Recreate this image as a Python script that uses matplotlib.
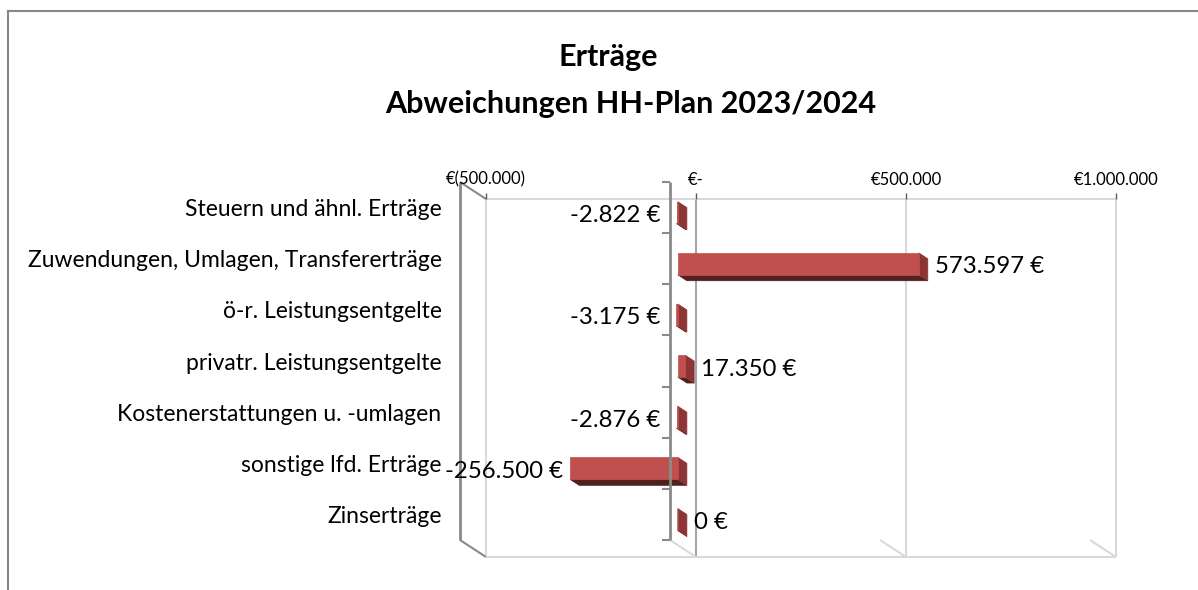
import matplotlib
matplotlib.use('Agg')
import matplotlib.pyplot as plt
from matplotlib.patches import Polygon
from matplotlib.lines import Line2D
from matplotlib.ticker import FuncFormatter

plt.rcParams['font.family'] = ['Lato', 'DejaVu Sans']

# data
categories = ['Steuern und ähnl. Erträge', 'Zuwendungen, Umlagen, Transfererträge',
              'ö-r. Leistungsentgelte', 'privatr. Leistungsentgelte',
              'Kostenerstattungen u. -umlagen', 'sonstige lfd. Erträge', 'Zinserträge']
values = [-2822, 573597, -3175, 17350, -2876, -256500, 0]
x_ticks = [-500000, 0, 500000, 1000000]

# Excel-ish 3D bar colours
FRONT = '#C0504D'
SIDE = '#8B3634'
BOTTOM = '#52201F'
GRID = '#D9D9D9'
DARK = '#8A8A8A'

W, H = 1198, 590
fig = plt.figure(figsize=(W / 100, H / 100), dpi=100)
ax = fig.add_axes([486 / W, (H - 557) / H, 630 / W, 358 / H])
n = len(categories)
ax.set_xlim(x_ticks[0], x_ticks[-1])
ax.set_ylim(n, 0)

# depth offset: front plane sits up/left of the back wall
px_x = (x_ticks[-1] - x_ticks[0]) / 630
px_y = n / 358
DX = 26 * px_x
DY = 17 * px_y


def P(x, y, d):
    """point at depth d (0 = front plane, 1 = back wall)"""
    return (x - DX * (1 - d), y - DY * (1 - d))


def seg(p, q, **kw):
    ax.plot([p[0], q[0]], [p[1], q[1]], clip_on=False, solid_capstyle='butt', **kw)


# back wall + floor
for t in x_ticks:
    seg((t, 0), (t, n), color='#A6A6A6' if t == 0 else GRID, lw=1.5, zorder=1)
    seg(P(t, n, 0), P(t, n, 1), color=DARK if t == x_ticks[0] else GRID, lw=1.5, zorder=1)
seg((x_ticks[0], 0), (x_ticks[-1], 0), color=GRID, lw=1.5, zorder=1)
seg((x_ticks[0], n), (x_ticks[-1], n), color=GRID, lw=1.5, zorder=1)

# left wall front edge
seg(P(x_ticks[0], 0, 0), P(x_ticks[0], n, 0), color=DARK, lw=2, zorder=1)
seg(P(x_ticks[0], 0, 0), P(x_ticks[0], 0, 1), color=DARK, lw=1.5, zorder=1)

# bars
DF, DB = 0.3, 0.65
BH = 0.43
for i, v in enumerate(values):
    lo, hi = min(v, 0), max(v, 0)
    y0, y1 = i + 0.5 - BH / 2, i + 0.5 + BH / 2
    bottom = [P(lo, y1, DF), P(hi, y1, DF), P(hi, y1, DB), P(lo, y1, DB)]
    side = [P(hi, y0, DF), P(hi, y0, DB), P(hi, y1, DB), P(hi, y1, DF)]
    front = [P(lo, y0, DF), P(hi, y0, DF), P(hi, y1, DF), P(lo, y1, DF)]
    for pts, c in [(bottom, BOTTOM), (side, SIDE), (front, FRONT)]:
        ax.add_patch(Polygon(pts, closed=True, facecolor=c, edgecolor=c, lw=0.5,
                             clip_on=False, zorder=3))

    label = f'{v:,}'.replace(',', '.') + ' €'
    ly = i + 0.5 - DY * (1 - 0.475)
    if v < 0:
        lx = min(P(lo, 0, DF)[0] - 7 * px_x, P(0, 0, 0)[0] - 10 * px_x)
        ax.text(lx, ly, label, ha='right', va='center', fontsize=17.3, color='black', zorder=6)
    else:
        lx = P(hi, 0, DB)[0] + 7 * px_x
        ax.text(lx, ly, label, ha='left', va='center', fontsize=17.3, color='black', zorder=6)

# front category axis with ticks (drawn over the bars)
seg(P(0, 0, 0), P(0, n, 0), color=DARK, lw=2, zorder=5)
for j in range(n + 1):
    a = P(0, j, 0)
    seg((a[0] - 8 * px_x, a[1]), a, color=DARK, lw=1.5, zorder=5)


def eur(x, pos):
    if x == 0:
        return '€-'
    s = f'{abs(x):,.0f}'.replace(',', '.')
    return f'€({s})' if x < 0 else f'€{s}'


ax.xaxis.tick_top()
ax.set_xticks(x_ticks)
ax.xaxis.set_major_formatter(FuncFormatter(eur))
ax.tick_params(axis='x', length=4, width=1, color='#595959', pad=4, labelsize=12)
ax.set_yticks([i + 0.5 - DY for i in range(n)])
ax.set_yticklabels(categories, fontsize=16.5)
ax.tick_params(axis='y', length=0, pad=32)
for s in ax.spines.values():
    s.set_visible(False)
ax.patch.set_visible(False)

# titles
fig.text(608 / W, 1 - 57 / H, 'Erträge', ha='center', va='center',
         fontsize=22, fontweight='bold')
fig.text(631 / W, 1 - 104 / H, 'Abweichungen HH-Plan 2023/2024', ha='center', va='center',
         fontsize=22, fontweight='bold')

# chart border (only top and left visible)
fig.add_artist(Line2D([8 / W, 1], [1 - 11 / H, 1 - 11 / H], transform=fig.transFigure,
                      color='#878787', lw=1.5))
fig.add_artist(Line2D([8 / W, 8 / W], [0, 1 - 11 / H], transform=fig.transFigure,
                      color='#878787', lw=1.5))

fig.savefig('out.png', dpi=100)
